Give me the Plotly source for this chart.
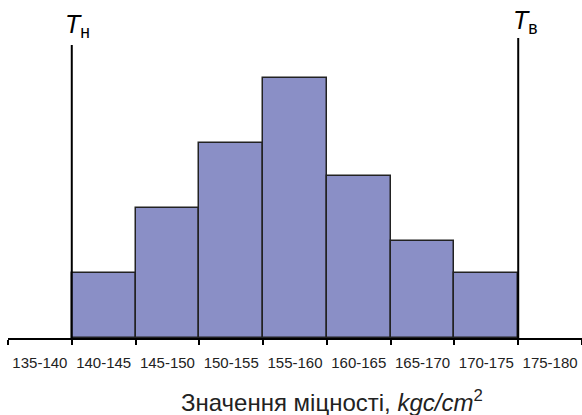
import plotly.graph_objects as go

tick_labels = ["135-140", "140-145", "145-150", "150-155", "155-160",
               "160-165", "165-170", "170-175", "175-180"]
bar_categories = ["140-145", "145-150", "150-155", "155-160",
                  "160-165", "165-170", "170-175"]
frequencies = [2, 4, 6, 8, 5, 3, 2]
limit_positions = [0.5, 7.5]          # T_н and T_в between categories
limit_heights = [9.015, 9.23]
limit_labels = ["<i>T</i><sub>н</sub>", "<i>T</i><sub>в</sub>"]

W, H = 582, 415
PLOT_L = 8
PLOT_H = 338
FONT = "Liberation Sans, Arial"

label_y_px = [26, 22.5]
label_xshift = [-9, -7]

fig = go.Figure()
fig.add_trace(go.Bar(
    x=bar_categories, y=frequencies,
    marker=dict(color="#8A8FC6", line=dict(color="#222222", width=1.5)),
    width=1.0,
))

for xpos, h, lab, ly, xs in zip(limit_positions, limit_heights, limit_labels, label_y_px, label_xshift):
    fig.add_shape(type="line", xref="x", yref="y", x0=xpos, x1=xpos, y0=0, y1=h,
                  line=dict(color="black", width=2))
    fig.add_annotation(x=xpos, xref="x", y=1 - ly / PLOT_H, yref="paper", text=lab,
                       showarrow=False, yanchor="middle", xanchor="left", xshift=xs,
                       font=dict(family=FONT, size=25, color="black"))

fig.add_annotation(
    x=(331.5 - PLOT_L) / (W - PLOT_L), xref="paper", y=-(401 - PLOT_H) / PLOT_H, yref="paper",
    text="Значення міцності, <i>kgc/cm</i><sup>2</sup>",
    showarrow=False, yanchor="middle", xanchor="center",
    font=dict(family=FONT, size=24, color="#222222"),
)

fig.update_layout(
    width=W, height=H,
    margin=dict(l=PLOT_L, r=0, t=0, b=H - PLOT_H, autoexpand=False),
    plot_bgcolor="white", paper_bgcolor="white",
    bargap=0, showlegend=False,
    xaxis=dict(type="category", categoryorder="array", categoryarray=tick_labels,
               tickvals=tick_labels, range=[-0.5, 8.5], tickson="boundaries",
               ticks="outside", ticklen=5, tickwidth=1.5, tickcolor="black",
               showline=True, linecolor="black", linewidth=1.5, showgrid=False,
               ticklabelstandoff=10, automargin=False, tickangle=0,
               tickfont=dict(family=FONT, size=15, color="#222222")),
    yaxis=dict(range=[0, PLOT_H / 32.5], visible=False, showgrid=False, zeroline=False,
               automargin=False),
)

fig.write_html(
    "out.html",
    config={"displayModeBar": False},
    post_script="document.body.style.margin='0';"
                "document.documentElement.style.overflow='hidden';",
)
